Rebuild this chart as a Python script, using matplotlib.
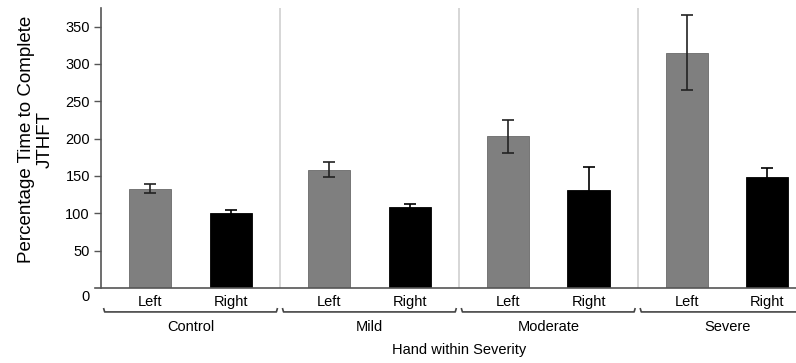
import numpy as np
import matplotlib.pyplot as plt

plt.rcParams['font.family'] = ['Liberation Sans', 'DejaVu Sans']

# data
groups = ['Control', 'Mild', 'Moderate', 'Severe']
hands = ['Left', 'Right']
left_vals = [133, 158, 203, 315]
left_err = [6, 10, 22, 50]
right_vals = [100, 109, 131, 149]
right_err = [4, 4, 31, 11]
yticks = [50, 100, 150, 200, 250, 300, 350]

fig = plt.figure(figsize=(7.96, 3.63), dpi=100)
ax = fig.add_axes([0.127, 0.207, 0.873, 0.771])

g = np.arange(len(groups)) * 2.0
bw = 0.47
ekw = dict(ecolor='#222222', elinewidth=1.2, capsize=4, capthick=1.2)
ax.bar(g + 0.55, left_vals, bw, yerr=left_err, color='#7f7f7f',
       edgecolor='#6a6a6a', lw=0.6, error_kw=ekw, zorder=3)
ax.bar(g + 1.45, right_vals, bw, yerr=right_err, color='#000000',
       edgecolor='#000000', lw=0.6, error_kw=dict(ekw, ecolor='#000000'), zorder=3)

# separators between groups
for s in g[1:]:
    ax.axvline(s, color='#d0d0d0', lw=1.2, zorder=1)

ax.set_xlim(0, 7.77)
ax.set_ylim(0, 375)
ax.set_yticks(yticks)
ax.tick_params(axis='y', length=5, width=1, color='#555555', labelsize=10.5, pad=3)
ax.set_xticks([])
for sp in ['top', 'right', 'bottom']:
    ax.spines[sp].set_visible(False)
ax.spines['left'].set_color('#555555')
ax.spines['left'].set_linewidth(1.2)

# bottom line extends a bit left of the spine
ax.plot([-0.009, 1.0], [0, 0], color='#555555', lw=1.2,
        transform=ax.get_yaxis_transform(), clip_on=False, zorder=4)
ax.text(-0.023, -0.032, '0', transform=ax.transAxes, ha='center', va='center',
        fontsize=10.5)

tr = ax.get_xaxis_transform()
for i, x0 in enumerate(g):
    ax.text(x0 + 0.55, -0.05, hands[0], transform=tr, ha='center', va='center', fontsize=10.5)
    ax.text(x0 + 1.45, -0.05, hands[1], transform=tr, ha='center', va='center', fontsize=10.5)
    a, b = x0 + 0.03, x0 + 1.97
    ax.plot([a, a + 0.01, b - 0.01, b], [-0.075, -0.086, -0.086, -0.075],
            color='#444444', lw=1.2, transform=tr, clip_on=False)
    ax.text(x0 + 1.0, -0.14, groups[i], transform=tr, ha='center', va='center', fontsize=10.5)

ax.text(4.0, -0.222, 'Hand within Severity', transform=tr, ha='center', va='center',
        fontsize=10.5)
fig.text(0.045, 0.615, 'Percentage Time to Complete\nJTHFT', rotation=90,
         ha='center', va='center', fontsize=13.5, multialignment='center', linespacing=1.12)

fig.savefig('out.png', dpi=100)
